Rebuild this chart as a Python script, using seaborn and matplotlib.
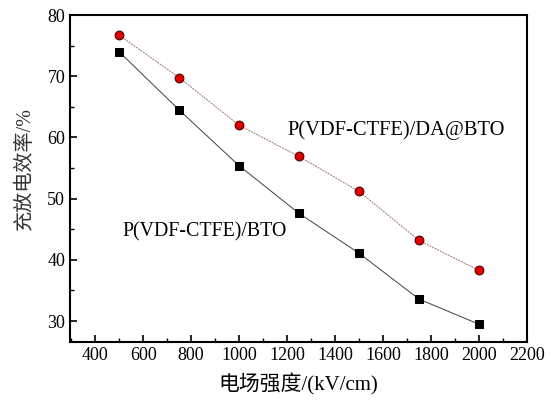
import matplotlib
matplotlib.use("Agg")
import matplotlib.pyplot as plt
import seaborn as sns
import pandas as pd
from matplotlib.ticker import MultipleLocator

field = [500, 750, 1000, 1250, 1500, 1750, 2000]
eff_da_bto = [76.7, 69.8, 62.0, 56.9, 51.2, 43.2, 38.3]
eff_bto = [74.0, 64.5, 55.4, 47.6, 41.1, 33.6, 29.5]
label_da = "P(VDF-CTFE)/DA@BTO"
label_bto = "P(VDF-CTFE)/BTO"

sns.set_style("ticks")
plt.rcParams['font.family'] = ['Liberation Serif', 'Noto Sans CJK SC']
plt.rcParams['axes.unicode_minus'] = False
for k in ["text.color", "axes.labelcolor", "xtick.color", "ytick.color", "axes.edgecolor"]:
    plt.rcParams[k] = "black"

df = pd.DataFrame({
    "field": field * 2,
    "eff": eff_da_bto + eff_bto,
    "series": [label_da] * len(field) + [label_bto] * len(field),
})

fig = plt.figure(figsize=(5.53, 4.08), dpi=100)
ax = fig.add_axes([0.1266, 0.162, 0.826, 0.801])

sns.lineplot(data=df[df.series == label_da], x="field", y="eff", ax=ax,
             color="#a07070", lw=0.7, linestyle=(0, (2, 1)), marker="o",
             markersize=6.3, markerfacecolor="#e00000", markeredgecolor="#500000",
             markeredgewidth=0.8, legend=False)
sns.lineplot(data=df[df.series == label_bto], x="field", y="eff", ax=ax,
             color="#404040", lw=0.7, marker="s", markersize=5.5,
             markerfacecolor="black", markeredgecolor="black", legend=False)

ax.set_xlim(295, 2200)
ax.set_ylim(26.6, 80)
ax.xaxis.set_major_locator(MultipleLocator(200))
ax.xaxis.set_minor_locator(MultipleLocator(100))
ax.yaxis.set_major_locator(MultipleLocator(10))
ax.yaxis.set_minor_locator(MultipleLocator(5))
ax.tick_params(which="major", direction="in", length=5, width=1.2, labelsize=13, colors="black")
ax.tick_params(which="minor", direction="in", length=3, width=1, colors="black")
for s in ax.spines.values():
    s.set_linewidth(1.5)
    s.set_color("black")

ax.set_xlabel("电场强度/(kV/cm)", fontsize=15, labelpad=7)
ax.set_ylabel("充放电效率/%", fontsize=14.5, color="#333333")
ax.yaxis.set_label_coords(-0.076, 0.53)

ax.text(1200, 60.4, label_da, fontsize=14.8, ha="left", va="baseline")
ax.text(512, 43.9, label_bto, fontsize=14.3, ha="left", va="baseline")

fig.savefig("out.png", dpi=100)
